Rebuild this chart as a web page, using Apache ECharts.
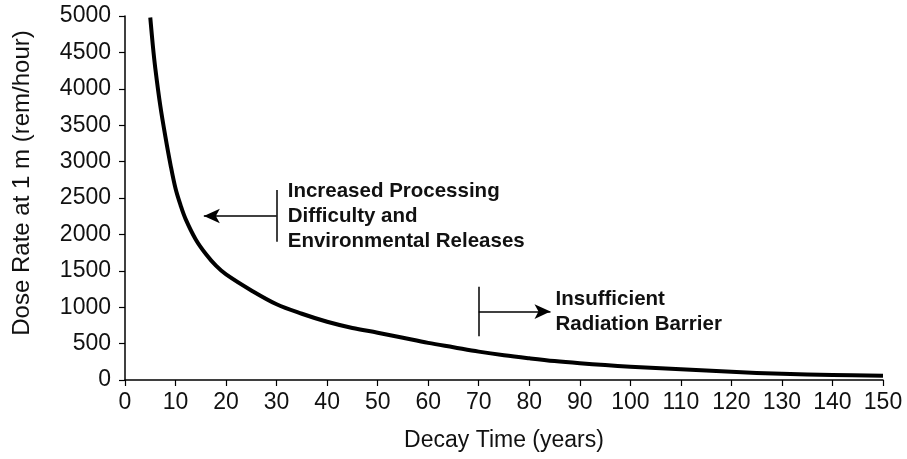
<!DOCTYPE html>
<html>
<head>
<meta charset="utf-8">
<script src="https://cdn.jsdelivr.net/npm/echarts@6/dist/echarts.min.js"></script>
<style>
html,body{margin:0;padding:0;background:#fff;}
#c{width:907px;height:459px;}
</style>
</head>
<body>
<div id="c"></div>
<script>
// ---- data ----
const decayYears = [5, 5.5, 6, 7, 8, 9, 10, 11, 12, 14, 16, 18, 20, 25, 30, 35, 40, 45, 50, 55, 60, 65, 70, 75, 80, 85, 90, 95, 100, 110, 120, 130, 140, 150];
const doseRate   = [4980, 4600, 4280, 3760, 3340, 2960, 2630, 2400, 2210, 1930, 1730, 1570, 1450, 1230, 1040, 910, 800, 715, 650, 580, 510, 450, 390, 340, 298, 260, 230, 205, 183, 147, 112, 85, 68, 58];
const xTicks = [0, 150, 10];
const yTicks = [0, 5000, 500];

// annotation 1: bar at x=30, arrow pointing left
const ann1Bar = [[30, 1900], [30, 2610]];
const ann1Arrow = [[30, 2253], [15.6, 2253]];
const ann1TextPos = [32.2, 2253];
const ann1Text = 'Increased Processing\nDifficulty and\nEnvironmental Releases';
// annotation 2: bar at x=70, arrow pointing right
const ann2Bar = [[70, 600], [70, 1280]];
const ann2Arrow = [[70, 940], [84.2, 940]];
const ann2TextPos = [85.2, 935];
const ann2Text = 'Insufficient\nRadiation Barrier';

const FONT = 'Liberation Sans, Arial, sans-serif';
const chart = echarts.init(document.getElementById('c'), null, {renderer: 'canvas'});

const seg = (pts, arrow) => [
  {coord: pts[0], symbol: 'none'},
  {coord: pts[1], symbol: arrow ? 'arrow' : 'none'}
];

chart.setOption({
  animation: false,
  backgroundColor: '#fff',
  grid: {left: 125, right: 24, top: 16, bottom: 79, containLabel: false},
  xAxis: {
    type: 'value', min: xTicks[0], max: xTicks[1], interval: xTicks[2],
    name: 'Decay Time (years)', nameLocation: 'middle', nameGap: 49,
    nameTextStyle: {fontFamily: FONT, fontSize: 23, color: '#111'},
    axisLine: {show: true, lineStyle: {color: '#000', width: 1.5}},
    axisTick: {show: true, length: 6, lineStyle: {color: '#000', width: 1.2}},
    axisLabel: {fontFamily: FONT, fontSize: 23, color: '#111', margin: 11},
    splitLine: {show: false}
  },
  yAxis: {
    type: 'value', min: yTicks[0], max: yTicks[1], interval: yTicks[2],
    name: 'Dose Rate at 1 m (rem/hour)', nameLocation: 'middle', nameGap: 91,
    nameTextStyle: {fontFamily: FONT, fontSize: 24, color: '#111', padding: [0, 0, 0, 30]},
    axisLine: {show: true, lineStyle: {color: '#000', width: 1.5}},
    axisTick: {show: true, length: 6, lineStyle: {color: '#000', width: 1.2}},
    axisLabel: {fontFamily: FONT, fontSize: 23, color: '#111', margin: 14, formatter: v => String(v)},
    splitLine: {show: false}
  },
  series: [
    {
      type: 'line',
      data: decayYears.map((x, i) => [x, doseRate[i]]),
      smooth: 0.35,
      showSymbol: false,
      lineStyle: {color: '#000', width: 4, cap: 'butt', join: 'round'},
      z: 3,
      markLine: {
        silent: true,
        symbolSize: [11, 16],
        label: {show: false},
        lineStyle: {color: '#000', width: 1.5, type: 'solid'},
        emphasis: {disabled: true},
        data: [seg(ann1Bar, false), seg(ann1Arrow, true), seg(ann2Bar, false), seg(ann2Arrow, true)]
      },
      markPoint: {
        silent: true,
        symbol: 'circle', symbolSize: 0,
        data: [
          {coord: ann1TextPos, value: ann1Text},
          {coord: ann2TextPos, value: ann2Text}
        ],
        label: {
          show: true, position: 'right', distance: 0,
          formatter: p => p.value,
          fontFamily: FONT, fontSize: 20.5, fontWeight: 'bold', color: '#111',
          lineHeight: 25, align: 'left', verticalAlign: 'middle'
        }
      }
    }
  ]
});
</script>
</body>
</html>
